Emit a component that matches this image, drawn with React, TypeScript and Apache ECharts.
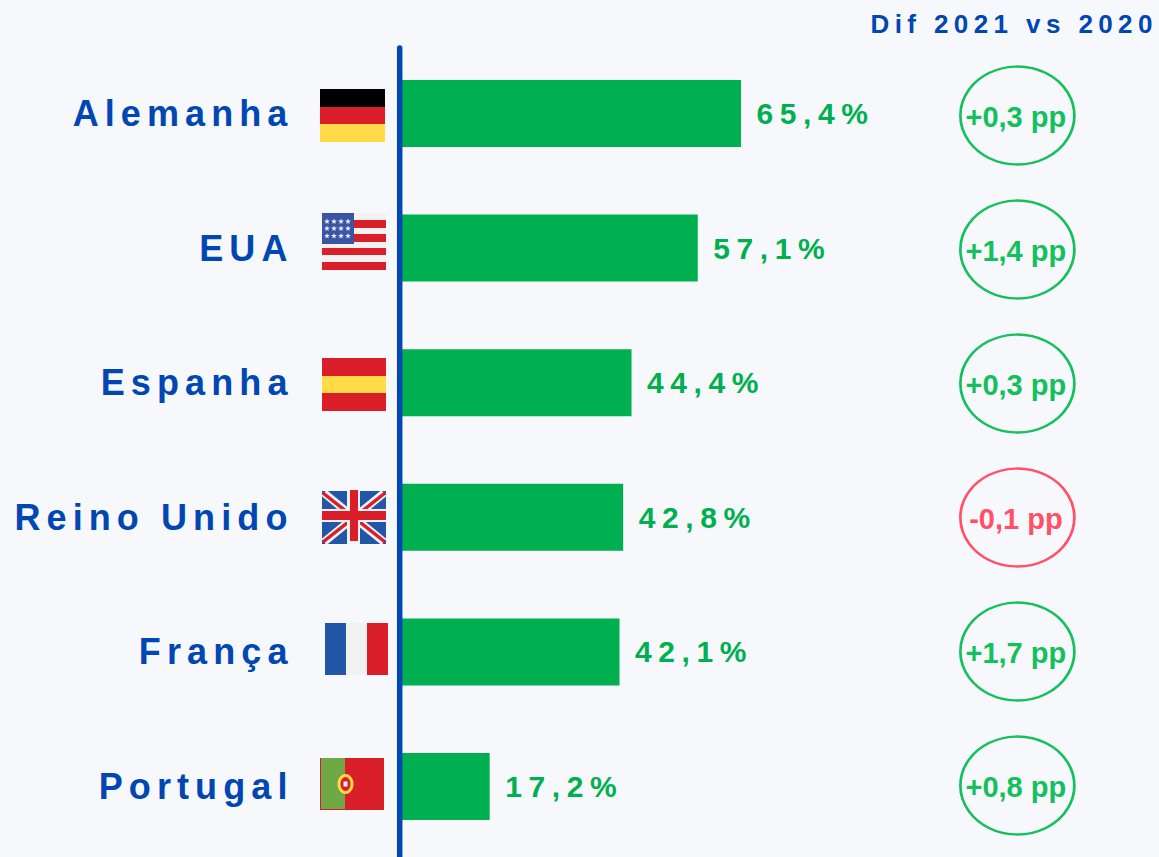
import React, { useEffect, useRef } from "react";
import * as echarts from "echarts";

const countries = ["Alemanha", "EUA", "Espanha", "Reino Unido", "França", "Portugal"];
const shares = [65.4, 57.1, 44.4, 42.8, 42.1, 17.2];
const diffs = ["+0,3 pp", "+1,4 pp", "+0,3 pp", "-0,1 pp", "+1,7 pp", "+0,8 pp"];
const diffHeader = "Dif 2021 vs 2020";
const diffColumn = 118.4;

const BLUE = "#0047B3";
const BAR = "#00B050";
const UP = "#14C05C";
const DOWN = "#FF5068";
const BG = "#F7F8FB";
const F_RED = "#DA1F2B";
const F_YEL = "#FFDB47";
const F_WHT = "#F2F2F2";
const F_BLU = "#2257A8";
const FONT = "'Liberation Sans', Arial, sans-serif";

const r = (x: number, y: number, w: number, h: number, fill: string) => ({
  type: "rect",
  shape: { x, y, width: w, height: h },
  style: { fill },
  z: 10,
});
const poly = (pts: number[][], fill: string) => ({
  type: "polygon",
  shape: { points: pts },
  style: { fill },
  z: 11,
});
const star = (cx: number, cy: number, R: number) => {
  const pts: number[][] = [];
  for (let i = 0; i < 10; i++) {
    const a = -Math.PI / 2 + (i * Math.PI) / 5;
    const d = i % 2 ? R * 0.42 : R;
    pts.push([cx + d * Math.cos(a), cy + d * Math.sin(a)]);
  }
  return poly(pts, "#E8ECF6");
};
const diag = (x1: number, y1: number, x2: number, y2: number, w: number, stroke: string) => ({
  type: "line",
  shape: { x1, y1, x2, y2 },
  style: { stroke, lineWidth: w },
  z: 11,
});

function flags(): any[] {
  const out: any[] = [];
  // Germany
  out.push(r(320, 89, 65, 18, "#000000"), r(320, 107, 65, 17, F_RED), r(320, 124, 65, 18, F_YEL));
  // USA
  out.push(r(322, 213, 64, 57, F_WHT));
  [[220, 8], [234, 8], [248, 7], [262, 8]].forEach(([y, h]) => out.push(r(322, y, 64, h, F_RED)));
  out.push(r(322, 213, 32, 31, "#3B55A5"));
  [221.5, 228.5, 236].forEach((y) =>
    [327, 334, 341, 348].forEach((x) => out.push(star(x, y, 3)))
  );
  // Spain
  out.push(r(322, 358, 64, 18, F_RED), r(322, 376, 64, 17, F_YEL), r(322, 393, 64, 18, F_RED));
  // UK
  out.push(r(322, 491, 64, 53, F_BLU));
  out.push(diag(324, 493, 384, 542, 8, F_WHT), diag(324, 542, 384, 493, 8, F_WHT));
  out.push(diag(323, 493, 385, 542, 3.5, F_RED), diag(323, 542, 385, 493, 3.5, F_RED));
  out.push({ ...r(322, 509, 64, 13, F_WHT), z: 12 }, { ...r(347, 490, 13, 54, F_WHT), z: 12 });
  out.push({ ...r(322, 511, 64, 9, F_RED), z: 13 }, { ...r(350, 490, 8, 51, F_RED), z: 13 });
  // France
  out.push(r(325, 623, 21, 52, F_BLU), r(346, 623, 21, 52, F_WHT), r(367, 623, 21, 52, F_RED));
  // Portugal
  out.push(r(320, 758, 64, 52, F_RED), r(321, 758, 24, 51, "#70A845"));
  out.push({ type: "ellipse", shape: { cx: 345.5, cy: 784, rx: 8, ry: 10 }, style: { fill: F_YEL }, z: 12 });
  out.push({ type: "ellipse", shape: { cx: 345.5, cy: 784, rx: 5, ry: 7 }, style: { fill: F_RED }, z: 13 });
  out.push({ ...r(343.5, 781.5, 4, 5, F_WHT), z: 14 });
  return out;
}

export default function App() {
  const ref = useRef<HTMLDivElement>(null);
  useEffect(() => {
    const chart = echarts.init(ref.current!, undefined, { renderer: "svg" });
    chart.setOption({
      animation: false,
      backgroundColor: BG,
      grid: [
        { left: 400, top: 46.2, width: 730, height: 807.6 },
        { left: 400, top: 48.5, width: 730, height: 804 },
      ],
      xAxis: [
        { type: "value", gridIndex: 0, min: 0, max: 140, show: false },
        { type: "value", gridIndex: 1, min: 0, max: 140, show: false },
      ],
      yAxis: [
        {
          type: "category",
          gridIndex: 0,
          inverse: true,
          data: countries,
          axisLine: { show: false },
          axisTick: { show: false },
          axisLabel: {
            color: BLUE,
            fontFamily: FONT,
            fontWeight: "bold",
            fontSize: 36,
            margin: 106.5,
          },
        },
        { type: "category", gridIndex: 1, inverse: true, data: countries, show: false },
      ],
      series: [
        {
          type: "bar",
          name: "2021",
          data: shares,
          barWidth: 67,
          itemStyle: { color: BAR },
          label: {
            show: true,
            position: "right",
            distance: 15.5,
            color: BAR,
            fontFamily: FONT,
            fontWeight: "bold",
            fontSize: 30,
            formatter: (p: any) => `${String(p.value).replace(".", ",")}%`,
          },
        },
        {
          type: "scatter",
          name: "Dif",
          xAxisIndex: 1,
          yAxisIndex: 1,
          clip: false,
          symbol: "circle",
          symbolSize: [114, 98],
          data: diffs.map((d, i) => {
            const c = d.startsWith("-") ? DOWN : UP;
            return {
              value: [diffColumn, countries[i]],
              name: d,
              itemStyle: { color: BG, borderColor: c, borderWidth: 2.5, opacity: 1 },
              label: { color: c },
            };
          }),
          label: {
            show: true,
            position: "inside",
            offset: [-1.5, 1.5],
            fontFamily: FONT,
            fontWeight: "bold",
            fontSize: 29,
            formatter: (p: any) => p.name,
          },
        },
      ],
      graphic: [
        {
          type: "line",
          shape: { x1: 399.7, y1: 48, x2: 399.7, y2: 860 },
          style: { stroke: BLUE, lineWidth: 5.5, lineCap: "round" },
          z: 20,
        },
        {
          type: "text",
          x: 870.5,
          y: 24,
          style: {
            text: diffHeader,
            fill: BLUE,
            font: `bold 26px ${FONT}`,
            textAlign: "left",
            textVerticalAlign: "middle",
          },
          z: 20,
        },
        ...flags(),
      ],
    });
    return () => chart.dispose();
  }, []);
  return (
    <>
      <style>{`
        html,body{margin:0;padding:0;background:${BG};overflow:hidden}
        svg text[style*="36px"]{letter-spacing:6.1px}
        svg text[style*="30px"]{letter-spacing:6.6px}
        svg text[style*="26px"]{letter-spacing:5.4px}
      `}</style>
      <div ref={ref} style={{ width: 1159, height: 857 }} />
    </>
  );
}
